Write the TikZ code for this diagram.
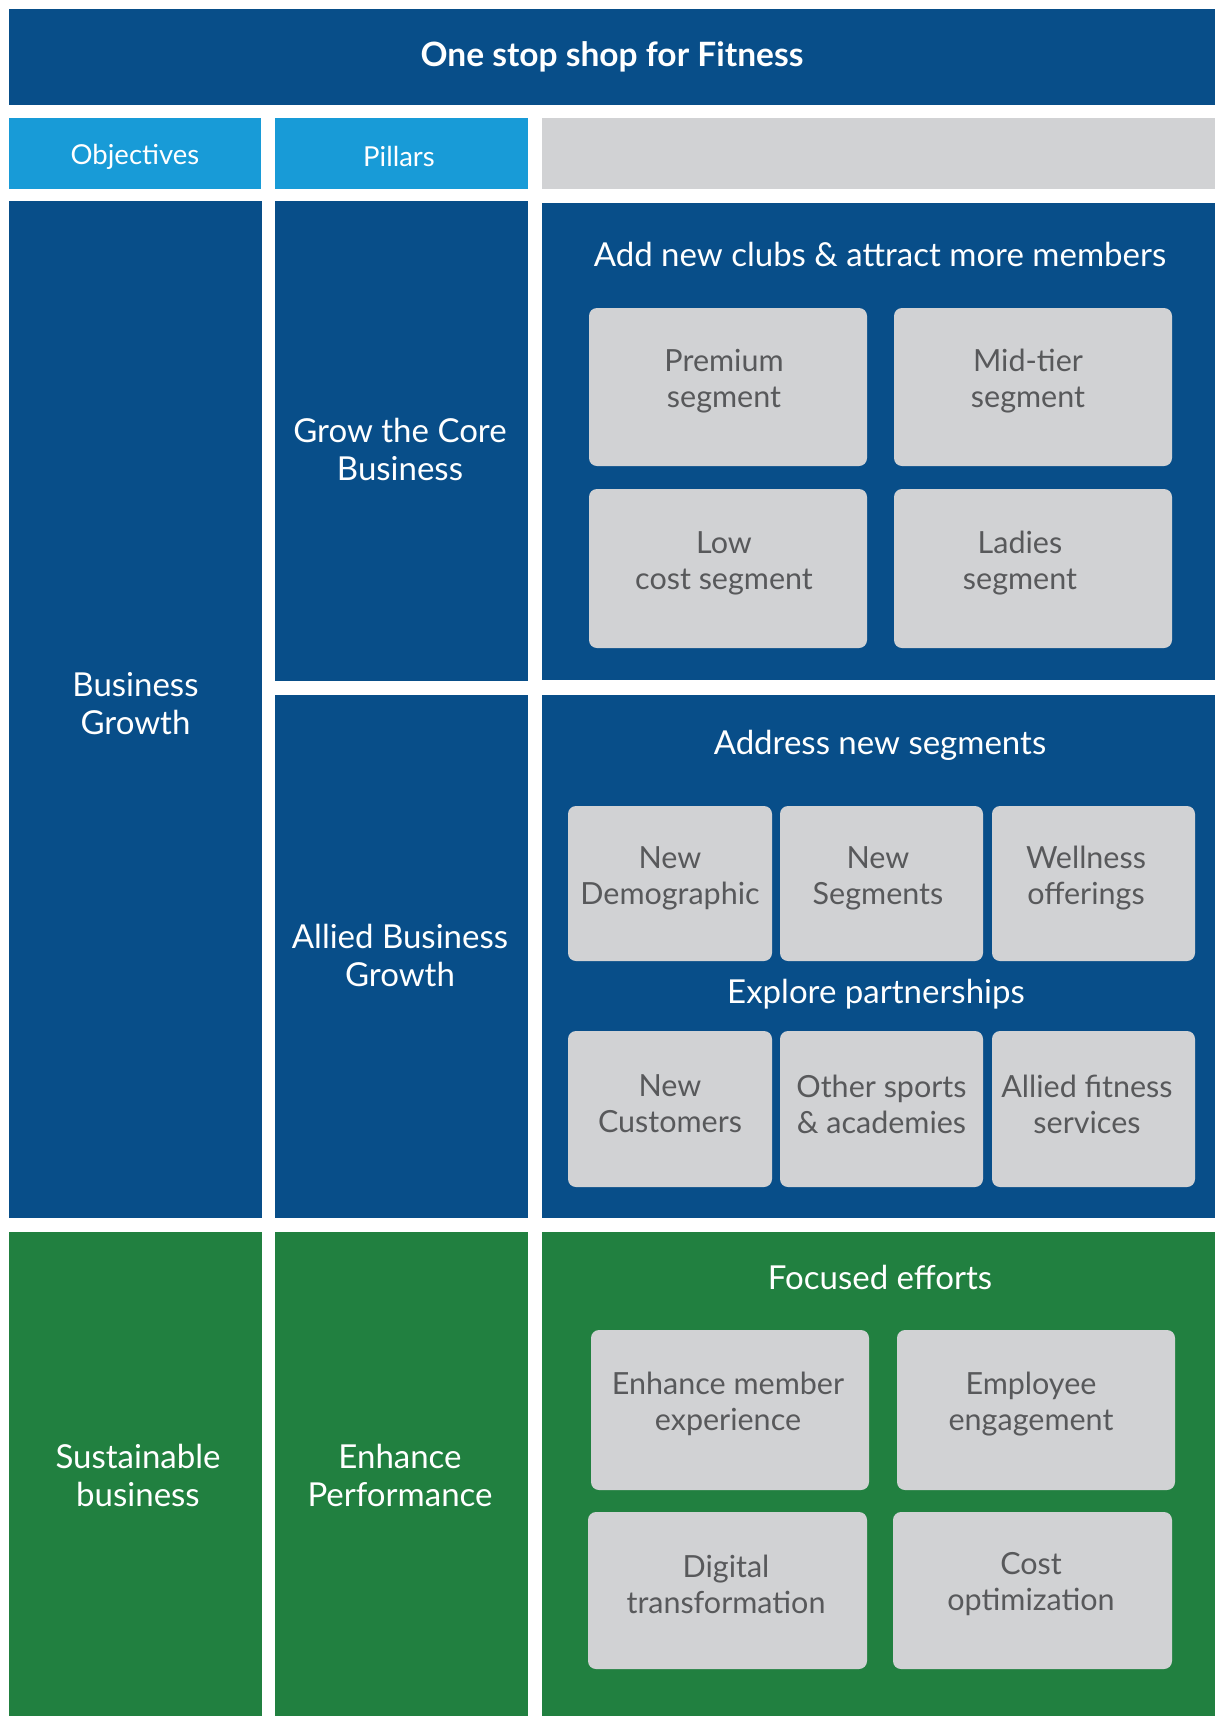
\documentclass[tikz,border=0pt]{standalone}
\usepackage{fontspec}
\setmainfont{Lato}
\definecolor{dblue}{HTML}{084E89}
\definecolor{lblue}{HTML}{189BD7}
\definecolor{lgrey}{HTML}{D1D2D4}
\definecolor{dgreen}{HTML}{218040}
\definecolor{tgrey}{HTML}{58595B}
\tikzset{
  panel/.style={fill=#1, draw=none, inner sep=0pt, text=white, align=center},
  colA/.style={minimum width=253pt},
  colB/.style={minimum width=253pt},
  colC/.style={minimum width=673pt},
  bigtxt/.style={font=\fontsize{33}{38}\selectfont},
  hdtxt/.style={font=\fontsize{27.5}{30}\selectfont},
  ttl/.style={text=white, font=\fontsize{33}{38}\selectfont, inner sep=0pt},
  card/.style={fill=lgrey, draw=none, rounded corners=8pt, inner sep=0pt},
  cardtxt/.style={text=tgrey, align=center, font=\fontsize{30.5}{36}\selectfont, inner sep=0pt},
}
\begin{document}
\begin{tikzpicture}[x=1pt,y=-1pt]
\useasboundingbox[fill=white] (0,0) rectangle (1215,1716);
% banner
\node[panel=dblue, minimum width=1206pt, minimum height=96pt, font=\fontsize{33.5}{38}\selectfont\bfseries] (banner) at (612,57) {One stop shop for Fitness};
% header row
\node[panel=lblue, minimum width=252pt, minimum height=71pt] (obj) at (135,153.5) {};
\node[hdtxt, text=white] (objt) at (135,157) {Objectives};
\node[panel=lblue, colB, minimum height=71pt] (pil) at (401.5,153.5) {};
\node[hdtxt, text=white] (pilt) at (399,156) {Pillars};
\node[panel=lgrey, colC, minimum height=71pt] (hgrey) at (878.5,153.5) {};
% columns
\node[panel=dblue, colA, minimum height=1017pt] (bg) at (135.5,709.5) {};
\node[bigtxt, text=white, align=center] (bgt) at (135.5,704) {Business\\Growth};
\node[panel=dblue, colB, minimum height=480pt] (core) at (401.5,441) {};
\node[bigtxt, text=white, align=center] (coretxt) at (400,449) {Grow the Core\\Business};
\node[panel=dblue, colC, minimum height=477pt] (r1) at (878.5,441.5) {};
\node[panel=dblue, colB, minimum height=523pt] (allied) at (401.5,956.5) {};
\node[bigtxt, text=white, align=center] (alliedt) at (400,955) {Allied Business\\Growth};
\node[panel=dblue, colC, minimum height=523pt] (r2) at (878.5,956.5) {};
\node[panel=dgreen, colA, minimum height=484pt] (sb) at (135.5,1474) {};
\node[bigtxt, text=white, align=center] (sbt) at (138,1475) {Sustainable\\business};
\node[panel=dgreen, colB, minimum height=484pt] (ep) at (401.5,1474) {};
\node[bigtxt, text=white, align=center] (ept) at (400,1475) {Enhance\\Performance};
\node[panel=dgreen, colC, minimum height=484pt] (r3) at (878.5,1474) {};
% titles
\node[ttl] (t1) at (880,254) {Add new clubs \& attract more members};
\node[ttl] (t2) at (880,745) {Address new segments};
\node[ttl] (t3) at (876,994) {Explore partnerships};
\node[ttl] (t4) at (880,1277) {Focused efforts};
% cards: growth core
\node[card, minimum width=278pt, minimum height=158pt] (prem) at (728,387) {};
\node[cardtxt] (premt) at (724,381) {Premium\\segment};
\node[card, minimum width=278pt, minimum height=158pt] (mid) at (1033,387) {};
\node[cardtxt] (midt) at (1028,381) {Mid-tier\\segment};
\node[card, minimum width=278pt, minimum height=159pt] (low) at (728,568.5) {};
\node[cardtxt] (lowt) at (724,563) {Low\\cost segment};
\node[card, minimum width=278pt, minimum height=159pt] (lad) at (1033,568.5) {};
\node[cardtxt] (ladt) at (1020,563) {Ladies\\segment};
% cards: new segments
\node[card, minimum width=204pt, minimum height=155pt] (nd) at (670,883.5) {};
\node[cardtxt] (ndt) at (670,878) {New\\Demographic};
\node[card, minimum width=203pt, minimum height=155pt] (ns) at (881.5,883.5) {};
\node[cardtxt] (nst) at (878,878) {New\\Segments};
\node[card, minimum width=203pt, minimum height=155pt] (wo) at (1093.5,883.5) {};
\node[cardtxt] (wot) at (1086,878) {Wellness\\offerings};
% cards: partnerships
\node[card, minimum width=204pt, minimum height=156pt] (nc) at (670,1109) {};
\node[cardtxt] (nct) at (670,1104) {New\\Customers};
\node[card, minimum width=203pt, minimum height=156pt] (os) at (881.5,1109) {};
\node[cardtxt] (ost) at (881.5,1104) {Other sports\\\& academies};
\node[card, minimum width=203pt, minimum height=156pt] (af) at (1093.5,1109) {};
\node[cardtxt] (aft) at (1087,1104) {Allied fitness\\services};
% cards: focused efforts
\node[card, minimum width=278pt, minimum height=160pt] (enh) at (730,1410) {};
\node[cardtxt] (enht) at (728,1404) {Enhance member\\experience};
\node[card, minimum width=278pt, minimum height=160pt] (emp) at (1036,1410) {};
\node[cardtxt] (empt) at (1031,1404) {Employee\\engagement};
\node[card, minimum width=279pt, minimum height=157pt] (dig) at (727.5,1590.5) {};
\node[cardtxt] (digt) at (726,1584) {Digital\\transformation};
\node[card, minimum width=279pt, minimum height=157pt] (cost) at (1032.5,1590.5) {};
\node[cardtxt] (costt) at (1031,1584) {Cost\\optimization};
\end{tikzpicture}
\end{document}
